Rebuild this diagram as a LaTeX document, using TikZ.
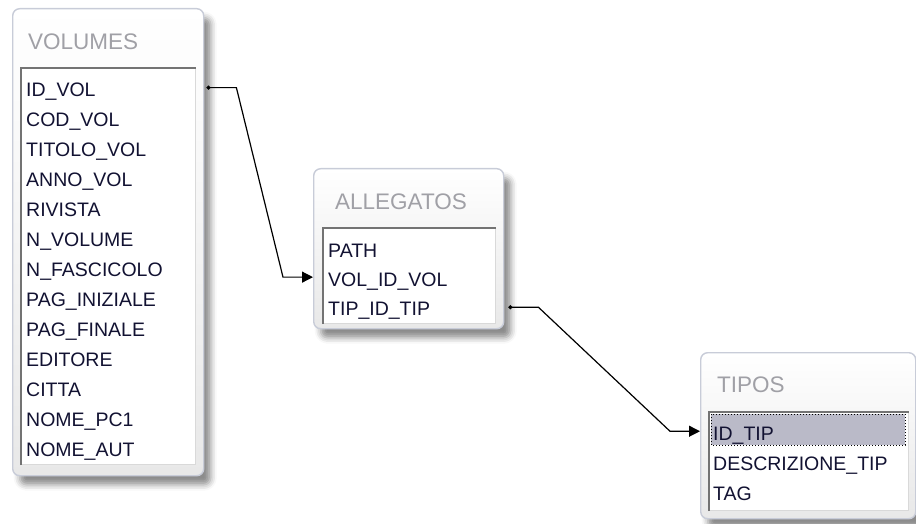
\documentclass[tikz,border=0pt]{standalone}
\usepackage{fontspec}
\setmainfont{Liberation Sans}
\usetikzlibrary{arrows.meta,shadows.blur,positioning}

\definecolor{frameline}{RGB}{200,204,216}
\definecolor{titlegray}{RGB}{160,160,166}
\definecolor{fieldtext}{RGB}{18,18,50}
\definecolor{selrow}{RGB}{186,186,200}

\begin{document}
\begin{tikzpicture}[x=1pt,y=-1pt,
    table/.style={draw=frameline, line width=1.4pt, rounded corners=7pt,
      top color=white, bottom color=black!9, inner sep=0pt, anchor=north west,
      blur shadow={shadow xshift=7pt, shadow yshift=-9pt,
        shadow blur radius=6pt, shadow opacity=45}},
    listbox/.style={draw=black!15, line width=1pt, fill=white, inner sep=0pt, anchor=north west},
    caption/.style={text=titlegray, font=\fontsize{22.5}{24}\selectfont, anchor=west, inner sep=0pt},
    field/.style={text=fieldtext, font=\fontsize{19.5}{21}\selectfont, anchor=base west, inner sep=0pt},
    link/.style={line width=1.2pt, {Circle[length=4pt]}-{Triangle[length=11pt,width=11pt]}}
  ]

  \useasboundingbox (0,0) rectangle (916,524);

  % VOLUMES
  \node[table, minimum width=191pt, minimum height=467pt] (vol) at (12,8) {};
  \node[caption] (vol-title) at (28,42) {VOLUMES};
  \node[listbox, minimum width=174pt, minimum height=396pt] (vol-list) at (21,68) {};
  \draw[black!55, line width=1.2pt] (vol-list.south west) -- (vol-list.north west) -- (vol-list.north east);
  \foreach \f [count=\i] in {ID\_VOL, COD\_VOL, TITOLO\_VOL, ANNO\_VOL, RIVISTA,
      N\_VOLUME, N\_FASCICOLO, PAG\_INIZIALE, PAG\_FINALE, EDITORE, CITTA,
      NOME\_PC1, NOME\_AUT}
    \node[field] (vol-\i) at (26, 66.5+30*\i) {\f};

  % ALLEGATOS
  \node[table, minimum width=190pt, minimum height=160pt] (alleg) at (313,168) {};
  \node[caption] (alleg-title) at (335,202) {ALLEGATOS};
  \node[listbox, minimum width=172pt, minimum height=95pt] (alleg-list) at (323,228) {};
  \draw[black!55, line width=1.2pt] (alleg-list.south west) -- (alleg-list.north west) -- (alleg-list.north east);
  \foreach \f [count=\i] in {PATH, VOL\_ID\_VOL, TIP\_ID\_TIP}
    \node[field] (alleg-\i) at (328, 228+29*\i) {\f};

  % TIPOS
  \node[table, minimum width=215pt, minimum height=166pt] (tipo) at (700,352) {};
  \node[caption] (tipo-title) at (717,385) {TIPOS};
  \node[listbox, minimum width=199pt, minimum height=98pt] (tipo-list) at (709,412) {};
  \draw[black!55, line width=1.2pt] (tipo-list.south west) -- (tipo-list.north west) -- (tipo-list.north east);
  \fill[selrow] (711,414) rectangle (905,445);
  \draw[dotted, line width=1pt] (711,414) rectangle (905,445);
  \foreach \f [count=\i] in {ID\_TIP, DESCRIZIONE\_TIP, TAG}
    \node[field] (tipo-\i) at (713, 410+30*\i) {\f};

  % relations
  \draw[link] ([xshift=2pt,yshift=4pt]vol.east |- vol-1) -- ++(30,0)
    -- ([xshift=-30pt,yshift=4pt]alleg.west |- alleg-2) -- ([yshift=4pt]alleg.west |- alleg-2);
  \draw[link] ([xshift=4pt,yshift=3pt]alleg.east |- alleg-3) -- ++(30,0)
    -- ([xshift=-30pt,yshift=4pt]tipo.west |- tipo-1) -- ([yshift=4pt]tipo.west |- tipo-1);

\end{tikzpicture}
\end{document}
